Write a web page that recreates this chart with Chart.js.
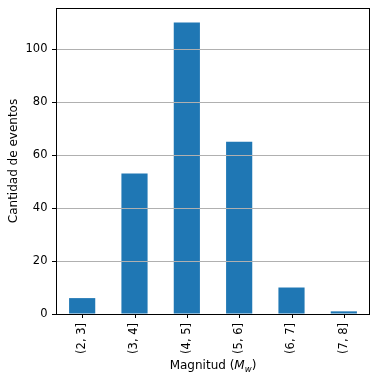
<!DOCTYPE html>
<html>
<head>
<meta charset="utf-8">
<script src="https://cdn.jsdelivr.net/npm/chart.js@4"></script>
<style>
    html, body { margin: 0; padding: 0; background: #fff; }
    #wrap { width: 378px; height: 381px; }
</style>
</head>
<body>
<div id="wrap"><canvas id="magChart" width="378" height="381"></canvas></div>
<script>
// Data
const categories = ['(2, 3]', '(3, 4]', '(4, 5]', '(5, 6]', '(6, 7]', '(7, 8]'];
const counts = [6, 53, 110, 65, 10, 1];
const yTicks = [0, 20, 40, 60, 80, 100];

const FONT = 'DejaVu Sans';

// Frame, x tick marks and axis titles drawn by hand (subscript needs it)
const framePlugin = {
    id: 'frame',
    afterDraw(chart) {
        const { ctx, chartArea: a } = chart;
        const xs = chart.scales.x;
        ctx.save();
        ctx.strokeStyle = '#000';
        ctx.lineWidth = 1;
        ctx.strokeRect(a.left + 0.5, a.top + 0.5, a.right - a.left - 1, a.bottom - a.top);

        // x tick marks at bar centres
        ctx.beginPath();
        categories.forEach((c, i) => {
            const px = Math.round(xs.getPixelForValue(i)) + 0.5;
            ctx.moveTo(px, a.bottom);
            ctx.lineTo(px, a.bottom + 4);
        });
        ctx.stroke();

        // y title
        ctx.fillStyle = '#000';
        ctx.font = `12px "${FONT}"`;
        ctx.textAlign = 'center';
        ctx.textBaseline = 'middle';
        ctx.translate(14, (a.top + a.bottom) / 2);
        ctx.rotate(-Math.PI / 2);
        ctx.fillText('Cantidad de eventos', 0, 0);
        ctx.restore();

        // x title: Magnitud (M_w)
        ctx.save();
        ctx.fillStyle = '#000';
        ctx.textBaseline = 'alphabetic';
        ctx.textAlign = 'left';
        const parts = [
            { t: 'Magnitud (', f: `12px "${FONT}"`, dy: 0 },
            { t: 'M', f: `italic 12px "${FONT}"`, dy: 0 },
            { t: 'w', f: `italic 8.5px "${FONT}"`, dy: 3 },
            { t: ')', f: `12px "${FONT}"`, dy: 0 }
        ];
        let total = 0;
        parts.forEach(p => { ctx.font = p.f; p.w = ctx.measureText(p.t).width; total += p.w; });
        let x = (a.left + a.right) / 2 - total / 2;
        const base = 369;
        parts.forEach(p => {
            ctx.font = p.f;
            ctx.fillText(p.t, x, base + p.dy);
            x += p.w;
        });
        ctx.restore();
    }
};

new Chart(document.getElementById('magChart'), {
    type: 'bar',
    data: {
        labels: categories,
        datasets: [{
            data: counts,
            backgroundColor: '#1f77b4',
            borderWidth: 0,
            barPercentage: 0.5,
            categoryPercentage: 1.0
        }]
    },
    options: {
        responsive: false,
        animation: false,
        layout: { padding: { top: 8, right: 8, left: 0, bottom: 0 } },
        plugins: {
            legend: { display: false },
            tooltip: { enabled: false }
        },
        scales: {
            x: {
                afterFit(scale) {
                    scale.height = 67;
                    scale.paddingLeft = 0;
                    scale.paddingRight = 0;
                },
                grid: {
                    display: true,
                    drawOnChartArea: false,
                    tickLength: 4,
                    tickColor: 'rgba(0,0,0,0)'
                },
                border: { display: false },
                ticks: {
                    color: '#000',
                    font: { family: FONT, size: 11.5 },
                    minRotation: 90,
                    maxRotation: 90,
                    padding: 5,
                    autoSkip: false
                }
            },
            y: {
                min: 0,
                max: 115.5,
                afterFit(scale) {
                    scale.width = 56;
                    scale.paddingTop = 0;
                    scale.paddingBottom = 0;
                },
                afterBuildTicks(scale) {
                    scale.ticks = yTicks.map(v => ({ value: v }));
                },
                grid: {
                    color: '#b0b0b0',
                    lineWidth: 1,
                    tickLength: 4,
                    tickColor: '#000',
                    z: 1
                },
                border: { display: false },
                ticks: {
                    color: '#000',
                    font: { family: FONT, size: 11.5 },
                    padding: 4.5
                }
            }
        }
    },
    plugins: [framePlugin]
});
</script>
</body>
</html>
